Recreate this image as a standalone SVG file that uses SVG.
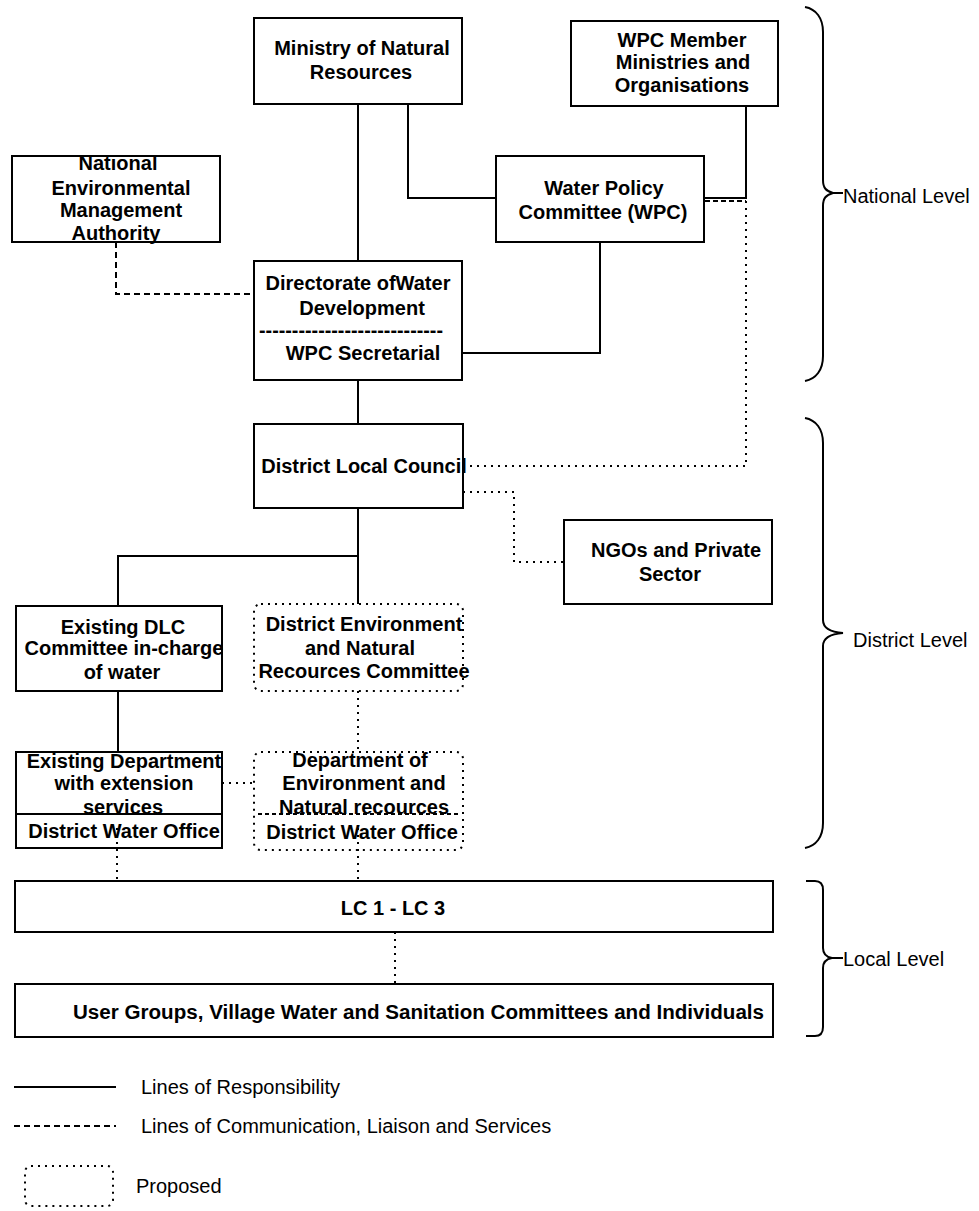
<svg xmlns="http://www.w3.org/2000/svg" width="979" height="1211" viewBox="0 0 979 1211">
<style>
.box{fill:#fff;stroke:#000;stroke-width:2}
.prop{fill:#fff;stroke:#000;stroke-width:2;stroke-dasharray:2 5}
.t{font-family:"Liberation Sans",Arial,sans-serif;font-weight:bold;font-size:20px;text-anchor:middle;fill:#000}
.lbl{font-family:"Liberation Sans",Arial,sans-serif;font-size:20px;fill:#000}
.solid{fill:none;stroke:#000;stroke-width:2}
.dash{fill:none;stroke:#000;stroke-width:2;stroke-dasharray:6 4}
.dot{fill:none;stroke:#000;stroke-width:2;stroke-dasharray:2 5}
.brace{fill:none;stroke:#000;stroke-width:2}
</style>
<rect width="979" height="1211" fill="#fff"/>

<g id="ministry">
<rect class="box" x="254" y="18" width="208" height="86"/>
<text class="t" x="362" y="55">Ministry of Natural</text>
<text class="t" x="361" y="79">Resources</text>
</g>
<g id="wpc-members">
<rect class="box" x="571" y="21" width="207" height="85"/>
<text class="t" x="682" y="47">WPC Member</text>
<text class="t" x="683" y="69">Ministries and</text>
<text class="t" x="682" y="92">Organisations</text>
</g>
<g id="nema">
<rect class="box" x="12" y="156" width="208" height="86"/>
<text class="t" x="118" y="170">National</text>
<text class="t" x="121" y="195">Environmental</text>
<text class="t" x="121" y="217">Management</text>
<text class="t" x="116" y="240">Authority</text>
</g>
<g id="wpc">
<rect class="box" x="496" y="156" width="208" height="86"/>
<text class="t" x="604" y="195">Water Policy</text>
<text class="t" x="603" y="219">Committee (WPC)</text>
</g>
<g id="directorate">
<rect class="box" x="254" y="261" width="208" height="119"/>
<text class="t" x="358" y="290">Directorate ofWater</text>
<text class="t" x="362" y="315">Development</text>
<text class="t" x="351" y="337" textLength="184" lengthAdjust="spacingAndGlyphs">----------------------------</text>
<text class="t" x="363" y="360">WPC Secretarial</text>
</g>
<g id="dlc">
<rect class="box" x="254" y="424" width="209" height="84"/>
<text class="t" x="364" y="473">District Local Council</text>
</g>
<g id="ngos">
<rect class="box" x="564" y="520" width="208" height="84"/>
<text class="t" x="676" y="557">NGOs and Private</text>
<text class="t" x="670" y="581">Sector</text>
</g>
<g id="existing-dlc-committee">
<rect class="box" x="16" y="606" width="206" height="85"/>
<text class="t" x="123" y="634">Existing DLC</text>
<text class="t" x="124" y="655">Committee in-charge</text>
<text class="t" x="122" y="679">of water</text>
</g>
<g id="district-env-committee">
<rect class="prop" x="254" y="604" width="209" height="87" rx="7"/>
<text class="t" x="364" y="631">District Environment</text>
<text class="t" x="360" y="655">and Natural</text>
<text class="t" x="364" y="678">Recources Committee</text>
</g>
<g id="existing-dept">
<rect class="box" x="16" y="752" width="206" height="96"/>
<line class="solid" x1="16" y1="814" x2="222" y2="814"/>
<text class="t" x="124" y="768">Existing Department</text>
<text class="t" x="124" y="790">with extension</text>
<text class="t" x="123" y="814">services</text>
<text class="t" x="124" y="838">District Water Office</text>
</g>
<g id="dept-env">
<rect class="prop" x="254" y="752" width="209" height="98" rx="7"/>
<line x1="258" y1="814" x2="458" y2="814" fill="none" stroke="#000" stroke-width="2" stroke-dasharray="4 3"/>
<text class="t" x="360" y="767">Department of</text>
<text class="t" x="364" y="790">Environment and</text>
<text class="t" x="364" y="814">Natural recources</text>
<text class="t" x="362" y="839">District Water Office</text>
</g>
<g id="lc">
<rect class="box" x="15" y="881" width="758" height="51"/>
<text class="t" x="393" y="915">LC 1 - LC 3</text>
</g>
<g id="user-groups">
<rect class="box" x="15" y="984" width="758" height="53"/>
<text class="t" x="73" y="1019" style="text-anchor:start" textLength="691" lengthAdjust="spacingAndGlyphs">User Groups, Village Water and Sanitation Committees and Individuals</text>
</g>

<g id="connectors">
<path class="solid" d="M358,104 V261"/>
<path class="solid" d="M408,104 V198 H496"/>
<path class="solid" d="M746,106 V198 H704"/>
<path class="solid" d="M600,242 V353 H462"/>
<path class="solid" d="M358,380 V424"/>
<path class="solid" d="M358,508 V604"/>
<path class="solid" d="M358,556 H118 V606"/>
<path class="solid" d="M118,691 V752"/>
<path class="dash" d="M116,242 V294 H254"/>
<path d="M705,201 H746" fill="none" stroke="#000" stroke-width="2" stroke-dasharray="5 3"/>
<path class="dot" d="M746,201 V466 H468"/>
<path class="dot" d="M463,492 H514 V562 H564"/>
<path class="dot" d="M358,691 V752"/>
<path class="dot" d="M222,783 H254"/>
<path class="dot" d="M117,828 V881"/>
<path class="dot" d="M358,828 V881"/>
<path class="dot" d="M395,932 V984"/>
</g>

<g id="national-level">
<path class="brace" d="M805,7 C816,9 823,18 823,32 L823,180 C823,188 826,191 833,193 C826,195 823,198 823,206 L823,356 C823,370 816,379 805,381 M833,193 H843"/>
<text class="lbl" x="843" y="203">National Level</text>
</g>
<g id="district-level">
<path class="brace" d="M805,418 C816,420 823,429 823,443 L823,620 C823,628 830,632 843,633 C830,634 823,638 823,646 L823,823 C823,837 816,846 805,848"/>
<text class="lbl" x="853" y="647">District Level</text>
</g>
<g id="local-level">
<path class="brace" d="M806,881 L815,881 C820,881 823,884 823,890 L823,948 C823,954 826,957 832,958 C826,959 823,962 823,968 L823,1027 C823,1033 820,1036 815,1036 L806,1036 M832,958 H843"/>
<text class="lbl" x="843" y="966">Local Level</text>
</g>

<g id="legend">
<line class="solid" x1="14" y1="1087" x2="116" y2="1087"/>
<text class="lbl" x="141" y="1094">Lines of Responsibility</text>
<line class="dash" x1="14" y1="1126" x2="116" y2="1126" style="stroke-dasharray:6 4"/>
<text class="lbl" x="141" y="1133">Lines of Communication, Liaison and Services</text>
<rect class="prop" x="25" y="1166" width="88" height="40" rx="6" style="fill:none"/>
<text class="lbl" x="136" y="1193">Proposed</text>
</g>
</svg>
